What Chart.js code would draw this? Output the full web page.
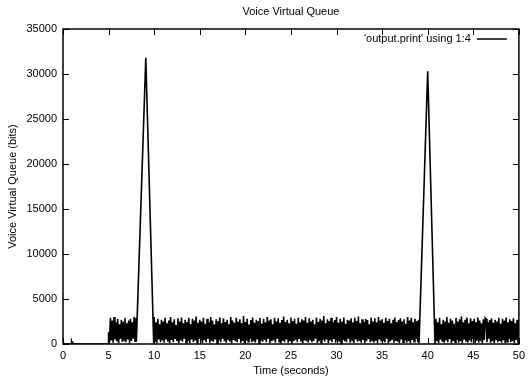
<!DOCTYPE html>
<html>
<head>
<meta charset="utf-8">
<title>Voice Virtual Queue</title>
<script src="https://cdn.jsdelivr.net/npm/chart.js@4/dist/chart.umd.min.js"></script>
<style>
  html, body { margin: 0; padding: 0; background: #fff; }
  #wrap { width: 530px; height: 381px; }
</style>
</head>
<body>
<div id="wrap"><canvas id="queueChart" width="530" height="381"></canvas></div>
<script>
// queue length samples, bits
const chartTitle = 'Voice Virtual Queue';
const seriesLabel = "'output.print' using 1:4";
const yTicks = [0, 5000, 10000, 15000, 20000, 25000, 30000, 35000];
const xTicks = [0, 5, 10, 15, 20, 25, 30, 35, 40, 45, 50];

// idle period before the calls start
const idleTimes = [0, 0.05, 0.9, 0.95, 1.0, 1.05, 1.1, 4.95];
const idleBits  = [250, 0, 0, 300, 150, 250, 0, 0];

// sampled every 0.1 s
const sampleStep = 0.1;

// 5.0 s .. 8.0 s
const burstAStart = 5.0;
const burstA = [1300, 200, 2900, 400, 2600, 150, 3000, 500, 2400, 300,
  2800, 100, 2200, 600, 2700, 250, 2500, 400, 2900, 200,
  2300, 500, 2600, 100, 2800, 350, 2400, 600, 3000, 300, 2900];

// first congestion spike
const spikeATimes = [8.05, 9.08, 9.95];
const spikeABits  = [300, 31800, 0];

// 10.0 s .. 39.0 s
const burstBStart = 10.0;
const burstB = [
  3000, 300, 2400, 100, 2800, 500, 2200, 200, 2700, 400,
  2500, 150, 2900, 600, 2300, 250, 2600, 100, 3000, 450,
  2400, 200, 2750, 550, 2100, 300, 2850, 100, 2500, 400,
  2950, 250, 2300, 600, 2700, 150, 2450, 350, 2900, 100,
  2200, 500, 2800, 200, 2600, 400, 3050, 150, 2350, 550,
  2700, 300, 2500, 100, 2900, 450, 2250, 200, 2800, 600,
  2400, 150, 3000, 350, 2600, 250, 2150, 500, 2750, 100,
  2550, 400, 2950, 200, 2300, 600, 2850, 300, 2450, 150,
  2700, 500, 2200, 250, 3000, 100, 2600, 450, 2350, 300,
  2900, 200, 2500, 550, 2750, 150, 2300, 350, 3100, 100,
  2450, 400, 2800, 250, 2150, 600, 2650, 200, 2950, 300,
  2350, 150, 2700, 500, 2550, 100, 2900, 350, 2250, 250,
  2800, 450, 2400, 200, 3000, 550, 2600, 100, 2750, 300,
  2200, 400, 2900, 150, 2500, 600, 2850, 250, 2350, 100,
  2650, 350, 3050, 200, 2450, 500, 2700, 150, 2300, 400,
  2950, 100, 2550, 300, 2800, 450, 2250, 200, 2900, 550,
  2400, 250, 2750, 100, 2600, 400, 3000, 300, 2350, 150,
  2850, 500, 2500, 200, 2700, 350, 2200, 600, 2950, 100,
  2450, 300, 2800, 150, 2600, 450, 3100, 250, 2300, 500,
  2750, 100, 2550, 400, 2900, 200, 2400, 550, 2650, 150,
  3000, 350, 2350, 250, 2800, 100, 2500, 450, 2950, 300,
  2250, 200, 2700, 600, 2600, 150, 2850, 400, 2400, 100,
  2900, 500, 2550, 250, 3050, 350, 2300, 150, 2750, 450,
  2450, 100, 2800, 300, 2650, 550, 2200, 200, 2950, 400,
  2500, 150, 2850, 350, 2400, 100, 3000, 500, 2600, 250,
  2750, 400, 2350, 200, 2900, 600, 2550, 100, 2800, 300,
  2300, 450, 2700, 150, 2950, 350, 2450, 250, 2650, 100,
  2850, 500, 2500, 200, 2750, 400, 2250, 150, 3000, 300,
  2600, 100, 2900, 450, 2400, 250, 2800, 550, 2550, 200,
  2700];

// second congestion spike
const spikeBTimes = [39.05, 40.0, 40.8];
const spikeBBits  = [100, 30300, 0];

// 40.9 s .. 50.0 s
const burstCStart = 40.9;
const burstC = [
  2800, 300, 2400, 100, 2900, 500, 2200, 250, 2700, 150,
  2500, 400, 3000, 200, 2350, 550, 2800, 100, 2600, 350,
  2250, 200, 2900, 450, 2500, 150, 2750, 300, 3050, 100,
  2400, 500, 2700, 250, 2950, 150, 2300, 400, 2850, 200,
  2550, 600, 2800, 100, 2400, 350, 2950, 150, 2600, 300,
  2300, 100, 2750, 450, 2900, 2800, 200, 2450, 600, 2650,
  150, 2850, 300, 2350, 100, 2700, 500, 2500, 200, 2900,
  350, 2250, 150, 2800, 400, 2600, 100, 2950, 250, 2400,
  550, 2750, 200, 2550, 300, 2850, 100, 2300, 450, 2700,
  150, 2600];

function pairs(times, values) {
  return values.map((v, i) => ({ x: times[i], y: v }));
}
function sampled(start, values) {
  return values.map((v, i) => ({ x: +(start + i * sampleStep).toFixed(2), y: v }));
}

const points = [].concat(
  pairs(idleTimes, idleBits),
  sampled(burstAStart, burstA),
  pairs(spikeATimes, spikeABits),
  sampled(burstBStart, burstB),
  pairs(spikeBTimes, spikeBBits),
  sampled(burstCStart, burstC)
);

const FONT = 'Liberation Sans, Arial, Helvetica, sans-serif';
const TICK = 6;

// gnuplot style box with inward ticks on all four sides, title and key
const frame = {
  id: 'frame',
  afterDraw(chart) {
    const { ctx, chartArea: a, scales } = chart;
    const xs = scales.x, ys = scales.y;
    ctx.save();
    ctx.strokeStyle = '#000';
    ctx.lineWidth = 1.5;
    ctx.strokeRect(a.left, a.top, a.right - a.left, a.bottom - a.top);

    ctx.lineWidth = 1;
    ctx.beginPath();
    xTicks.forEach(t => {
      const px = Math.round(xs.getPixelForValue(t)) + 0.5;
      ctx.moveTo(px, a.bottom); ctx.lineTo(px, a.bottom - TICK);
      ctx.moveTo(px, a.top); ctx.lineTo(px, a.top + TICK);
    });
    yTicks.forEach(t => {
      const py = Math.round(ys.getPixelForValue(t)) + 0.5;
      ctx.moveTo(a.left, py); ctx.lineTo(a.left + TICK, py);
      ctx.moveTo(a.right, py); ctx.lineTo(a.right - TICK, py);
    });
    ctx.stroke();

    ctx.fillStyle = '#000';
    ctx.font = '11px ' + FONT;
    ctx.textAlign = 'center';
    ctx.textBaseline = 'middle';
    ctx.fillText(chartTitle, (a.left + a.right) / 2, 12);

    // key, top right inside the box
    const ky = a.top + 10;
    ctx.textAlign = 'right';
    ctx.fillText(seriesLabel, a.right - 48, ky);
    ctx.lineWidth = 1.5;
    ctx.beginPath();
    ctx.moveTo(a.right - 42, ky);
    ctx.lineTo(a.right - 12, ky);
    ctx.stroke();
    ctx.restore();
  }
};

new Chart(document.getElementById('queueChart'), {
  type: 'scatter',
  data: {
    datasets: [{
      label: seriesLabel,
      data: points,
      showLine: true,
      borderColor: '#000',
      backgroundColor: '#000',
      borderWidth: 1.6,
      pointRadius: 0,
      tension: 0
    }]
  },
  options: {
    responsive: false,
    animation: false,
    layout: { padding: { left: 0, top: 29, right: 4, bottom: 0 } },
    plugins: {
      legend: { display: false },
      title: { display: false },
      tooltip: { enabled: false }
    },
    scales: {
      x: {
        type: 'linear',
        min: 0, max: 50,
        grid: { display: false, drawTicks: false },
        border: { display: false },
        afterFit: s => { s.height = 37; },
        afterBuildTicks: s => { s.ticks = xTicks.map(v => ({ value: v })); },
        ticks: { color: '#000', padding: 5, maxRotation: 0, font: { family: FONT, size: 11 } },
        title: { display: true, text: 'Time (seconds)', color: '#000',
                 padding: { top: 0, bottom: 3 }, font: { family: FONT, size: 11 } }
      },
      y: {
        min: 0, max: 35000,
        grid: { display: false, drawTicks: false },
        border: { display: false },
        afterFit: s => { s.width = 63; },
        afterBuildTicks: s => { s.ticks = yTicks.map(v => ({ value: v })); },
        ticks: { color: '#000', padding: 6, font: { family: FONT, size: 11 },
                 callback: v => String(v) },
        title: { display: true, text: 'Voice Virtual Queue (bits)', color: '#000',
                 padding: { top: 6, bottom: 0 }, font: { family: FONT, size: 11 } }
      }
    }
  },
  plugins: [frame]
});
</script>
</body>
</html>
